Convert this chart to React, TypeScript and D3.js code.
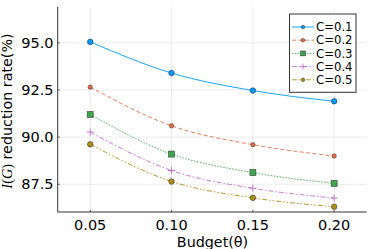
import React from 'react';
import * as d3 from 'd3';

const budgets = [0.05, 0.1, 0.15, 0.2];
const seriesNames = ['C=0.1', 'C=0.2', 'C=0.3', 'C=0.4', 'C=0.5'];
const c01 = [95.05, 93.4, 92.47, 91.9];
const c02 = [92.65, 90.6, 89.6, 89.0];
const c03 = [91.2, 89.1, 88.12, 87.55];
const c04 = [90.27, 88.23, 87.29, 86.77];
const c05 = [89.62, 87.65, 86.78, 86.31];
const yTicks = [87.5, 90.0, 92.5, 95.0];

const colors = ['#009AFA', '#E36F47', '#3EA44E', '#C371D2', '#AC8D18'];
const dashes = ['', '4,2.5', '1.5,1.5', '5,2,1.5,2', '5,2,1.5,2,1.5,2'];
const markers = ['circle', 'smallcircle', 'square', 'cross', 'circle'];

const W = 374, H = 249;
const left = 57.7, right = 366.7, top = 7, bottom = 212;
const font = 'DejaVu Sans, sans-serif';

function Marker({ kind, x, y, color, s = 1 }: { kind: string; x: number; y: number; color: string; s?: number }) {
  if (kind === 'square')
    return <rect x={x - 3 * s} y={y - 3 * s} width={6 * s} height={6 * s} fill={color} stroke="#222" strokeOpacity={0.7} strokeWidth={0.7} />;
  if (kind === 'cross')
    return (
      <g stroke={color} strokeWidth={0.9}>
        <line x1={x - 3.6 * s} x2={x + 3.6 * s} y1={y} y2={y} />
        <line x1={x} x2={x} y1={y - 3.6 * s} y2={y + 3.6 * s} />
      </g>
    );
  const r = (kind === 'smallcircle' ? 2.2 : 2.8) * s;
  return <circle cx={x} cy={y} r={r} fill={color} stroke="#222" strokeOpacity={0.7} strokeWidth={0.7} />;
}

export default function App() {
  const series = [c01, c02, c03, c04, c05];
  const x = d3.scaleLinear().domain([0.03, 0.22]).range([left, right]);
  const y = d3.scaleLinear().domain([86.03, 96.9]).range([bottom, top]);
  const line = d3
    .line<number>()
    .x((_, i) => x(budgets[i]))
    .y(d => y(d))
    .curve(d3.curveMonotoneX);

  const lgX = 289.5, lgY = 14, lgW = 66.5, lgH = 78.3;

  return (
    <svg width={W} height={H} style={{ position: 'absolute', left: 0, top: 0, background: '#fff' }}>
      {/* grid */}
      {budgets.map(b => (
        <line key={'gx' + b} x1={x(b)} x2={x(b)} y1={top} y2={bottom} stroke="#000" strokeOpacity={0.1} strokeWidth={0.8} />
      ))}
      {yTicks.map(t => (
        <line key={'gy' + t} x1={left} x2={right} y1={y(t)} y2={y(t)} stroke="#000" strokeOpacity={0.1} strokeWidth={0.8} />
      ))}
      {/* axes */}
      <line x1={left} x2={left} y1={top} y2={bottom} stroke="#333" strokeWidth={1} />
      <line x1={left} x2={right} y1={bottom} y2={bottom} stroke="#333" strokeWidth={1} />
      {budgets.map(b => (
        <g key={'tx' + b}>
          <line x1={x(b)} x2={x(b)} y1={bottom} y2={bottom - 2} stroke="#333" strokeWidth={0.8} />
          <text x={x(b)} y={230} textAnchor="middle" fontFamily={font} fontSize={14.5} fill="#000">
            {d3.format('.2f')(b)}
          </text>
        </g>
      ))}
      {yTicks.map(t => (
        <g key={'ty' + t}>
          <line x1={left} x2={left + 2} y1={y(t)} y2={y(t)} stroke="#333" strokeWidth={0.8} />
          <text x={53.5} y={y(t) + 5.2} textAnchor="end" fontFamily={font} fontSize={14.5} fill="#000">
            {d3.format('.1f')(t)}
          </text>
        </g>
      ))}
      {/* series */}
      {series.map((s, i) => (
        <path key={'l' + i} d={line(s) || ''} fill="none" stroke={colors[i]} strokeWidth={0.9} strokeDasharray={dashes[i]} />
      ))}
      {series.map((s, i) =>
        s.map((v, j) => <Marker key={'m' + i + '-' + j} kind={markers[i]} x={x(budgets[j])} y={y(v)} color={colors[i]} />)
      )}
      {/* axis labels */}
      <text x={212.5} y={246.5} textAnchor="middle" fontFamily={font} fontSize={14.3} fill="#000">
        Budget(θ)
      </text>
      <text transform="translate(12,111) rotate(-90)" textAnchor="middle" fontFamily={font} fontSize={14.3} fill="#000">
        <tspan fontFamily="Liberation Serif, serif" fontStyle="italic">I</tspan>
        <tspan fontFamily="Liberation Serif, serif">(</tspan>
        <tspan fontFamily="Liberation Serif, serif" fontStyle="italic">G</tspan>
        <tspan fontFamily="Liberation Serif, serif">)</tspan>
        <tspan> reduction rate(%)</tspan>
      </text>
      {/* legend */}
      <rect x={lgX} y={lgY} width={lgW} height={lgH} fill="#fff" stroke="#333" strokeWidth={1} />
      {seriesNames.map((n, i) => {
        const ly = 27 + i * 13.2;
        return (
          <g key={'lg' + i}>
            <line x1={292} x2={314} y1={ly} y2={ly} stroke={colors[i]} strokeWidth={0.9} strokeDasharray={dashes[i]} />
            <Marker kind={markers[i] === 'circle' ? 'smallcircle' : markers[i]} x={303} y={ly} color={colors[i]} s={0.8} />
            <text x={316} y={ly + 4.2} fontFamily={font} fontSize={11.7} fill="#000">
              {n}
            </text>
          </g>
        );
      })}
    </svg>
  );
}
